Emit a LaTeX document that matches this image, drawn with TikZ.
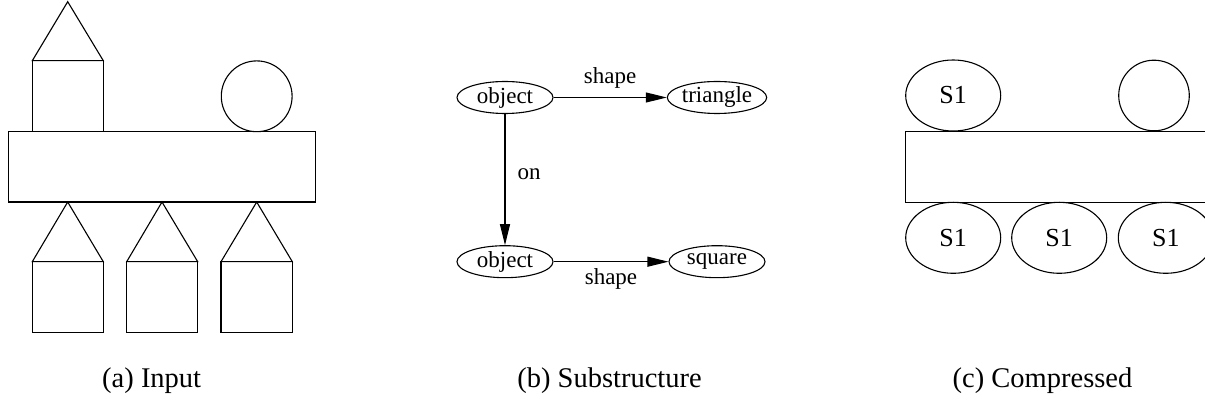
\documentclass[tikz,border=0pt]{standalone}
\usepackage{fontspec}
\setmainfont{Liberation Serif}
\usetikzlibrary{arrows.meta,shapes.geometric}
\begin{document}
\begin{tikzpicture}[x=1pt,y=-1pt,line width=1.1pt,>={Triangle[length=21pt,width=10pt]},
	graphnode/.style={ellipse,draw,minimum width=96pt,minimum height=32pt,inner sep=0pt,font=\fontsize{23}{27}\selectfont},
	edgelabel/.style={inner sep=0pt,font=\fontsize{23}{27}\selectfont},
	blob/.style={ellipse,draw,minimum width=95pt,minimum height=71pt,inner sep=0pt,font=\fontsize{26}{30}\selectfont},
	subcap/.style={anchor=base,inner sep=0pt,font=\fontsize{28.5}{34}\selectfont}]
	\clip (0,0) rectangle (1205,403);
	% (a) input
	\draw (32.3,60.7) -- (67.7,1.7) -- (103.3,60.7) -- cycle;
	\draw (32.3,60.7) rectangle (103.3,131.7);
	\draw (256.7,96.3) circle (35.4);
	\draw (8.7,131.7) rectangle (315.7,202);
	\draw (32.3,261.7) -- (67.7,202) -- (103.3,261.7) -- cycle;
	\draw (126.7,261.7) -- (162,202) -- (197.7,261.7) -- cycle;
	\draw (221,261.7) -- (256.7,202) -- (292.3,261.7) -- cycle;
	\draw (32.3,261.7) rectangle (103.3,332.3);
	\draw (126.7,261.7) rectangle (197.7,332.3);
	\draw (221,261.7) rectangle (292.3,332.3);
	\node[subcap] (capa) at (151.7,388) {(a) Input};
	% (b) substructure
	\node[graphnode] (obja) at (505,97.5) {object};
	\node[graphnode] (tri) at (717,97.5) {triangle};
	\node[graphnode] (objb) at (505,261.7) {object};
	\node[graphnode] (sq) at (717,261.7) {square};
	\draw[->] (obja) -- node[midway,above=9pt,edgelabel] {shape} (tri);
	\draw[->] (obja) -- node[pos=0.46,right=12pt,edgelabel] {on} (objb);
	\draw[->] (objb) -- node[midway,below=6pt,edgelabel] {shape} (sq);
	\node[subcap] (capb) at (609.5,388) {(b) Substructure};
	% (c) compressed
	\node[blob] (topa) at (953.2,95.5) {S1};
	\draw (1154,95.5) circle (35.3);
	\draw (905.7,131.3) rectangle (1212.7,202.3);
	\node[blob] (bota) at (953.2,237.8) {S1};
	\node[blob] (botb) at (1059.2,237.8) {S1};
	\node[blob] (botc) at (1165.8,237.8) {S1};
	\node[subcap] (capc) at (1042.5,388) {(c) Compressed};
\end{tikzpicture}
\end{document}
